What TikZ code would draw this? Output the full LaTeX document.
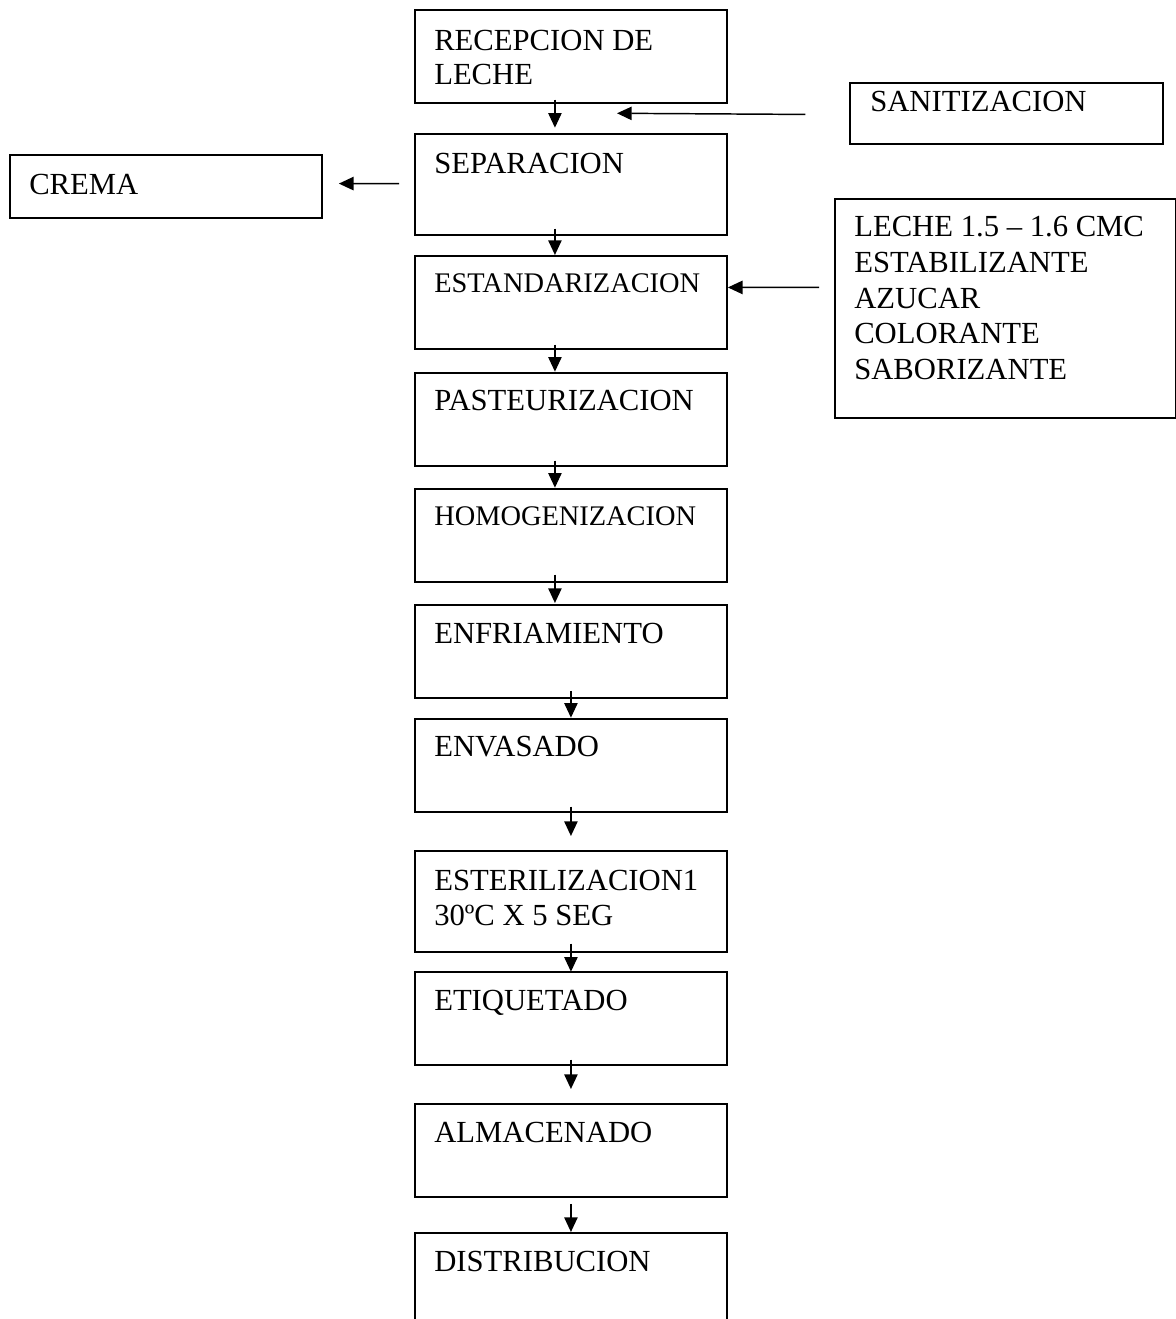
\documentclass[tikz,border=0pt]{standalone}
\usepackage{fontspec}
\setmainfont{Liberation Serif}
\usetikzlibrary{arrows.meta,calc}

\tikzset{
  caja/.style={draw, line width=1.4pt, anchor=north west, inner sep=0pt, minimum width=234pt, minimum height=69.75pt},
  texto/.style={anchor=base west, inner sep=0pt, align=left, font=\fontsize{23}{25}\selectfont},
  textochico/.style={texto, font=\fontsize{21.3}{24}\selectfont},
  flecha/.style={line width=1.1pt, -{Triangle[length=11pt,width=10pt]}},
}

\begin{document}
\begin{tikzpicture}[x=0.75pt,y=0.75pt,yscale=-1,xscale=1]
\fill[white] (0,0) rectangle (1176,1319);
\clip (0,0) rectangle (1176,1319);

%Shape: Rectangle
\node[caja] (rec) at (414,9.3) {};
%Shape: Rectangle
\node[caja, minimum height=75.5pt] (sep) at (414,133.3) {};
%Shape: Rectangle
\node[caja] (std) at (414,255) {};
%Shape: Rectangle
\node[caja] (pas) at (414,371.7) {};
%Shape: Rectangle
\node[caja] (hom) at (414,487.7) {};
%Shape: Rectangle
\node[caja] (enf) at (414,604) {};
%Shape: Rectangle
\node[caja] (env) at (414,717.7) {};
%Shape: Rectangle
\node[caja, minimum height=75.5pt] (est) at (414,850) {};
%Shape: Rectangle
\node[caja] (eti) at (414,970.7) {};
%Shape: Rectangle
\node[caja] (alm) at (414,1103) {};
%Shape: Rectangle
\node[caja] (dis) at (414,1232) {};
%Shape: Rectangle
\node[caja, minimum width=234.3pt, minimum height=46.2pt] (san) at (849.3,81.7) {};
%Shape: Rectangle
\node[caja, minimum height=47.5pt] (crema) at (9,154) {};
%Shape: Rectangle
\node[caja, minimum width=255.4pt, minimum height=163.8pt] (add) at (834,198.3) {};

%Straight Lines
\draw[flecha] ($(rec.south)+(-16,-4.6)$) -- ($(sep.north)+(-16,-5.6)$);
\draw[flecha] ($(sep.south)+(-16,-7.3)$) -- ($(std.north)+(-16,0)$);
\draw[flecha] ($(std.south)+(-16,-5.3)$) -- ($(pas.north)+(-16,0)$);
\draw[flecha] ($(pas.south)+(-16,-6)$) -- ($(hom.north)+(-16,0)$);
\draw[flecha] ($(hom.south)+(-16,-8)$) -- ($(enf.north)+(-16,-1)$);
\draw[flecha] ($(enf.south)+(0,-8)$) -- ($(env.north)+(0,0)$);
\draw[flecha] ($(env.south)+(0,-6)$) -- ($(est.north)+(0,-14)$);
\draw[flecha] ($(est.south)+(0,-9)$) -- ($(eti.north)+(0,1)$);
\draw[flecha] ($(eti.south)+(0,-6)$) -- ($(alm.north)+(0,-14)$);
\draw[flecha] ($(alm.south)+(0,6)$) -- ($(dis.north)+(0,0)$);
%Straight Lines
\coordinate (sanfin) at (617,113.3);
\draw[flecha] ($(san.west)+(-44,1)$) -- (sanfin);
\draw[flecha] ($(sep.west)+(-15,-1)$) -- ($(crema.east)+(16,-3)$);
\draw[flecha] ($(add.west)+(-15,-21)$) -- ($(std.east)+(0,-15)$);

% Text Node
\node[texto] (recT) at (434,84.3) {RECEPCION DE\\LECHE};
% Text Node
\node[texto] (sepT) at (434,173.3) {SEPARACION};
% Text Node
\node[textochico] (stdT) at (434,292.3) {ESTANDARIZACION};
% Text Node
\node[texto] (pasT) at (434,410.7) {PASTEURIZACION};
% Text Node
\node[textochico] (homT) at (434,525.3) {HOMOGENIZACION};
% Text Node
\node[texto] (enfT) at (434,643.3) {ENFRIAMIENTO};
% Text Node
\node[texto] (envT) at (434,756.7) {ENVASADO};
% Text Node
\node[texto, font=\fontsize{23}{25.7}\selectfont] (estT) at (434,925) {ESTERILIZACION1\\30ºC X 5 SEG};
% Text Node
\node[texto] (etiT) at (434,1010.7) {ETIQUETADO};
% Text Node
\node[texto] (almT) at (434,1142.7) {ALMACENADO};
% Text Node
\node[texto] (disT) at (434,1271.7) {DISTRIBUCION};
% Text Node
\node[texto] (sanT) at (870,111.7) {SANITIZACION};
% Text Node
\node[texto] (cremaT) at (29,194.3) {CREMA};
% Text Node
\node[texto, font=\fontsize{23}{26.7}\selectfont] (addT) at (854,379.3) {LECHE 1.5 – 1.6 CMC\\ESTABILIZANTE\\AZUCAR\\COLORANTE\\SABORIZANTE};

\end{tikzpicture}
\end{document}
